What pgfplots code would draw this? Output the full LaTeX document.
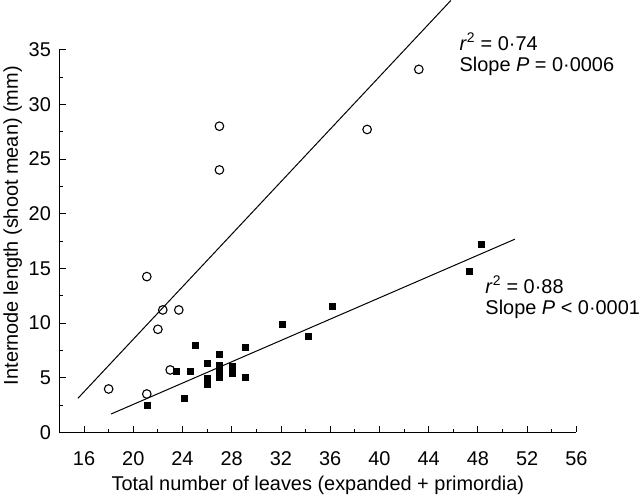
\documentclass[border=0pt]{standalone}
\usepackage{pgfplots}
\pgfplotsset{compat=1.18}
\usepackage{fontspec}
\setmainfont{Liberation Sans}
\begin{document}
\begin{tikzpicture}
\begin{axis}[
 scale only axis, width=517bp, height=382.6bp,
 xmin=14, xmax=56, ymin=0, ymax=35,
 axis lines*=left,
 xtick={16,20,...,56}, ytick={0,5,...,35},
 minor x tick num=1, minor y tick num=1,
 tick align=inside,
 major tick length=6.5bp, minor tick length=3.5bp,
 tick style={black, line width=0.8bp},
 axis line style={line width=0.8bp},
 clip=false,
 font=\fontsize{20}{23}\selectfont,
 ticklabel style={font=\fontsize{20}{23}\selectfont},
 xticklabel style={yshift=-16bp},
 yticklabel style={xshift=-5bp},
 /pgf/number format/assume math mode=true,
 xlabel={Total number of leaves (expanded + primordia)},
 ylabel={Internode length (shoot mean) (mm)},
 xlabel style={yshift=-3bp},
 ylabel style={at={(ticklabel cs:0.54)}},
]
% fitted lines
\addplot[black, line width=1bp] coordinates {(15.5,3.1) (45.8,39.5)};
\addplot[black, line width=1bp] coordinates {(18.2,1.67) (51.0,17.66)};
% open circles
\addplot[only marks, mark=o, mark size=4.3bp, mark options={line width=1.1bp, fill=white}] coordinates {
(18.0,3.96) (21.1,3.5) (21.1,14.24) (22.0,9.42) (22.4,11.19) (23.7,11.19)
(23.0,5.7) (27.0,28.0) (27.0,24.0) (39.0,27.7) (43.2,33.2)};
% filled squares
\addplot[only marks, mark=square*, mark size=3bp, black] coordinates {
(21.1,2.43) (23.5,5.6) (24.6,5.6) (24.1,3.1) (25.0,8.0)
(26.0,6.3) (26.0,4.95) (26.0,4.4)
(27.0,7.1) (27.0,6.1) (27.0,5.5) (27.0,5.0)
(28.0,6.0) (28.0,5.4)
(29.1,7.76) (29.1,5.0)
(32.1,9.88) (34.2,8.75) (36.2,11.5) (47.3,14.73) (48.3,17.2)};
\node[anchor=west, inner sep=0pt] at (axis cs:46.5,35.75) {\fontsize{20}{23}\selectfont\textit{r}\textsuperscript{2} = 0·74};
\node[anchor=west, inner sep=0pt] at (axis cs:46.5,33.5) {\fontsize{20}{23}\selectfont Slope \textit{P} = 0·0006};
\node[anchor=west, inner sep=0pt] at (axis cs:48.6,13.5) {\fontsize{20}{23}\selectfont\textit{r}\textsuperscript{2} = 0·88};
\node[anchor=west, inner sep=0pt] at (axis cs:48.6,11.2) {\fontsize{20}{23}\selectfont Slope \textit{P} < 0·0001};
\end{axis}
\end{tikzpicture}
\end{document}
